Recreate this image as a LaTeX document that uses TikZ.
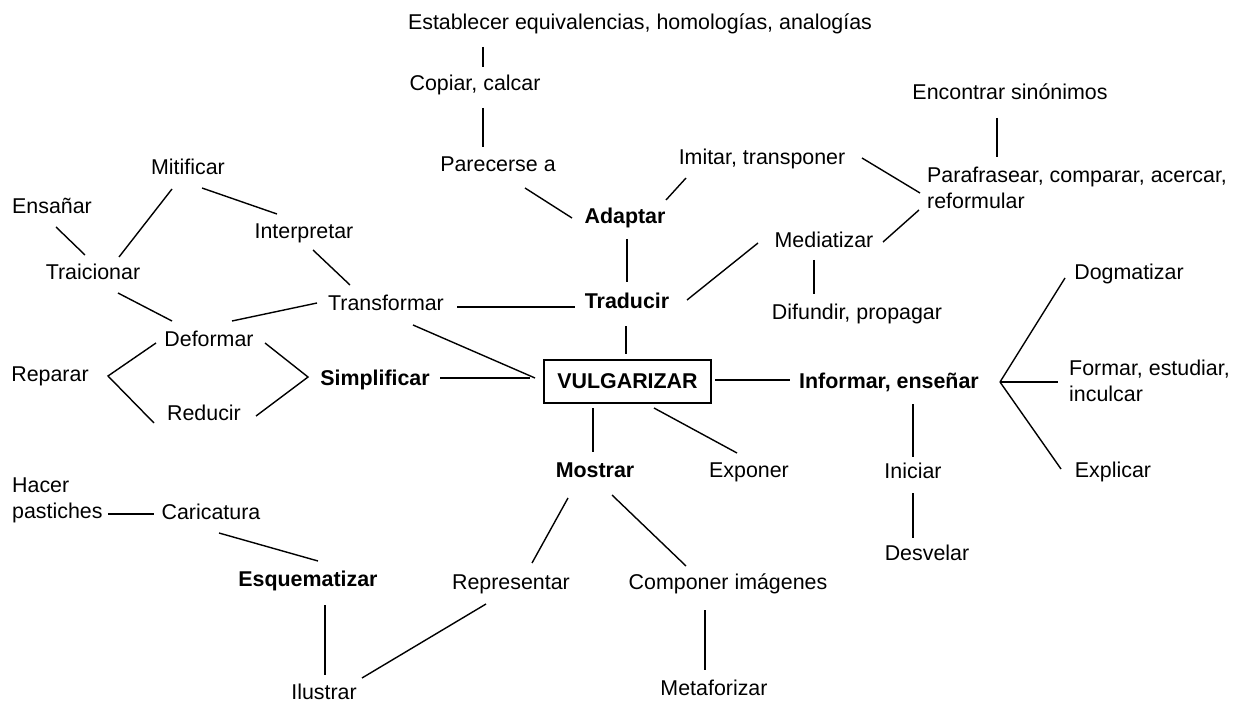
\documentclass[tikz,border=0pt]{standalone}
\usepackage{fontspec}
\setmainfont{Liberation Sans}
\newcommand\lk[6]{\draw[conn] ([shift={(#2,#3)}]#1) -- ([shift={(#5,#6)}]#4);}
\begin{document}
\begin{tikzpicture}[x=1pt,y=-1pt,
  every node/.style={inner sep=0pt},
  lbl/.style={text height=15pt,text depth=0pt,font=\fontsize{21.4}{26}\selectfont},
  blbl/.style={lbl,font=\fontsize{21.4}{26}\selectfont\bfseries},
  ml/.style={align=left,anchor=north west,font=\fontsize{21.4}{26}\selectfont},
  mainbox/.style={draw,line width=1.6pt,minimum width=167pt,minimum height=43pt,font=\fontsize{21.4}{26}\selectfont\bfseries},
  conn/.style={line width=1.4pt}]
\useasboundingbox (0,0) rectangle (1239,703);
% nodes
\node[lbl] (est) at (640,22) {Establecer equivalencias, homologías, analogías};
\node[lbl] (copiar) at (475,83) {Copiar, calcar};
\node[lbl] (parecerse) at (498,164) {Parecerse a};
\node[blbl] (adaptar) at (625,216) {Adaptar};
\node[lbl] (imitar) at (762,157) {Imitar, transponer};
\node[blbl] (traducir) at (627,301) {Traducir};
\node[lbl] (mediatizar) at (824,240) {Mediatizar};
\node[lbl] (difundir) at (857,312) {Difundir, propagar};
\node[lbl] (encontrar) at (1010,92) {Encontrar sinónimos};
\node[ml] (paraf) at (927,167) {Parafrasear, comparar, acercar,\\reformular};
\node[lbl] (dogmatizar) at (1129,272) {Dogmatizar};
\node[ml] (formar) at (1069,360) {Formar, estudiar,\\inculcar};
\node[lbl] (explicar) at (1113,470) {Explicar};
\node[blbl] (informar) at (889,381) {Informar, enseñar};
\node[lbl] (iniciar) at (913,471) {Iniciar};
\node[lbl] (desvelar) at (927,553) {Desvelar};
\node[mainbox] (vulg) at (627.5,381.5) {VULGARIZAR};
\node[blbl] (mostrar) at (595,470) {Mostrar};
\node[lbl] (exponer) at (749,470) {Exponer};
\node[lbl] (representar) at (511,582) {Representar};
\node[lbl] (componer) at (728,582) {Componer imágenes};
\node[lbl] (metaforizar) at (714,688) {Metaforizar};
\node[lbl] (ilustrar) at (324,692) {Ilustrar};
\node[blbl] (esquematizar) at (308,579) {Esquematizar};
\node[lbl] (caricatura) at (211,512) {Caricatura};
\node[ml] (hacer) at (12,478) {Hacer\\pastiches};
\node[lbl] (mitificar) at (188,167) {Mitificar};
\node[lbl] (ensanar) at (52,206) {Ensañar};
\node[lbl] (interpretar) at (304,231) {Interpretar};
\node[lbl] (traicionar) at (93,272) {Traicionar};
\node[lbl] (transformar) at (386,303) {Transformar};
\node[lbl] (deformar) at (209,339) {Deformar};
\node[lbl] (reparar) at (50,374) {Reparar};
\node[lbl] (reducir) at (204,413) {Reducir};
\node[blbl] (simplificar) at (375,378) {Simplificar};
% fork vertices
\coordinate (forkR) at ([shift={(111,1)}]informar.center);
\coordinate (forkL) at ([shift={(58,2)}]reparar.center);
\coordinate (forkS) at ([shift={(-67,-1)}]simplificar.center);
% connectors
\lk{est.center}{-157}{25}{copiar.center}{8}{-16}
\lk{copiar.center}{8}{25}{parecerse.center}{-15}{-17}
\lk{parecerse.center}{27}{24}{adaptar.center}{-53}{2}
\lk{adaptar.center}{41}{-16}{imitar.center}{-76}{21}
\lk{imitar.center}{100}{1}{paraf.north west}{-7}{26}
\lk{encontrar.center}{-13}{26}{paraf.north west}{70}{-10}
\lk{mediatizar.center}{59}{2}{paraf.north west}{-8}{43}
\lk{adaptar.center}{2}{23}{traducir.center}{0}{-19}
\lk{transformar.center}{71}{4}{traducir.center}{-52}{6}
\lk{traducir.center}{60}{-1}{mediatizar.center}{-66}{3}
\lk{mediatizar.center}{-10}{20}{difundir.center}{-43}{-18}
\lk{traducir.center}{-1}{25}{vulg.center}{-1.5}{-27.5}
\lk{transformar.center}{27}{22}{vulg.center}{-92.5}{-3.5}
\lk{simplificar.center}{65}{0}{vulg.center}{-97.5}{-3.5}
\lk{vulg.center}{87.5}{-1.5}{informar.center}{-99}{-1}
\lk{vulg.center}{-34.5}{26.5}{mostrar.center}{-2}{-18}
\lk{vulg.center}{26.5}{26.5}{exponer.center}{-12}{-17}
\lk{mostrar.center}{-27}{28}{representar.center}{21}{-19}
\lk{mostrar.center}{17}{25}{componer.center}{-42}{-16}
\lk{componer.center}{-23}{28}{metaforizar.center}{-9}{-18}
\lk{representar.center}{-25}{22}{ilustrar.center}{38}{-14}
\lk{esquematizar.center}{17}{26}{ilustrar.center}{1}{-17}
\lk{caricatura.center}{8}{21}{esquematizar.center}{10}{-18}
\lk{hacer.north west}{96}{36}{caricatura.center}{-57}{2}
\lk{forkR}{0}{0}{dogmatizar.center}{-64}{6}
\lk{forkR}{0}{0}{formar.north west}{-11}{22}
\lk{forkR}{0}{0}{explicar.center}{-52}{-1}
\lk{informar.center}{24}{23}{iniciar.center}{0}{-14}
\lk{iniciar.center}{0}{22}{desvelar.center}{-14}{-15}
\lk{ensanar.center}{4}{21}{traicionar.center}{-8}{-17}
\lk{mitificar.center}{-16}{22}{traicionar.center}{26}{-15}
\lk{mitificar.center}{14}{21}{interpretar.center}{-27}{-17}
\lk{interpretar.center}{9}{19}{transformar.center}{-36}{-18}
\lk{traicionar.center}{25}{21}{deformar.center}{-37}{-18}
\lk{transformar.center}{-69}{0}{deformar.center}{23}{-18}
\draw[conn] ([shift={(-53,4)}]deformar.center) -- (forkL) -- ([shift={(-50,10)}]reducir.center);
\draw[conn] ([shift={(56,4)}]deformar.center) -- (forkS) -- ([shift={(52,3)}]reducir.center);
\end{tikzpicture}
\end{document}
